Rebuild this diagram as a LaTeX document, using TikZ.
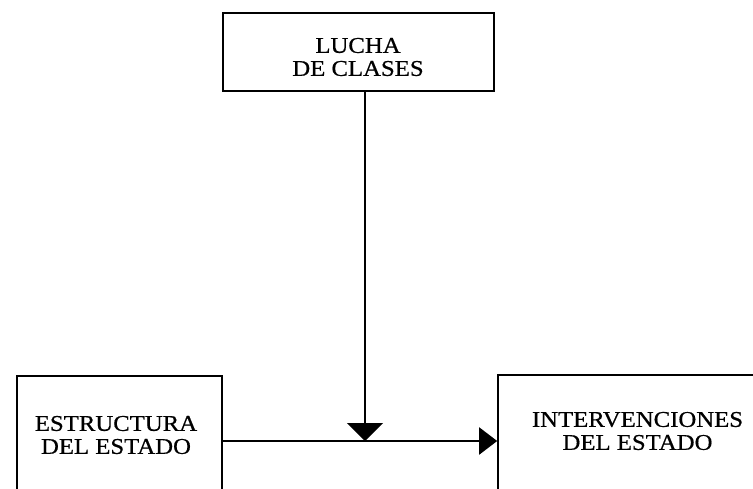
\documentclass[tikz,border=0pt]{standalone}
\usepackage{fontspec}
\setmainfont{Liberation Serif}
\newfontfamily\labfont[FakeBold=0.6,FakeStretch=1.1]{Liberation Serif}
\usetikzlibrary{arrows.meta}
\begin{document}
\begin{tikzpicture}[x=1pt,y=-1pt,
  box/.style={draw=black,line width=1.6pt,rectangle,inner sep=0pt},
  lbl/.style={align=center,font=\labfont\fontsize{22.5}{23}\selectfont,inner sep=0pt},
  conn/.style={draw=black,line width=2pt}]
\useasboundingbox (0,0) rectangle (753,488);
\node[box,minimum width=271pt,minimum height=78pt] (lucha) at (358.5,52) {};
\node[lbl] (luchat) at (358,57) {LUCHA\\DE CLASES};
\node[box,minimum width=205pt,minimum height=130pt] (est) at (119.5,441) {};
\node[lbl] (estt) at (116,435) {ESTRUCTURA\\DEL ESTADO};
\node[box,minimum width=300pt,minimum height=130pt] (int) at (648,440) {};
\node[lbl] (intt) at (637.5,431) {INTERVENCIONES\\DEL ESTADO};
\coordinate (j) at (365,441);
\draw[conn,-{Triangle[length=18pt,width=36pt]}] (j |- lucha.south) -- (j);
\draw[conn,-{Triangle[length=18pt,width=27pt]}] (est.east |- j) -- (int.west |- j);
\end{tikzpicture}
\end{document}
